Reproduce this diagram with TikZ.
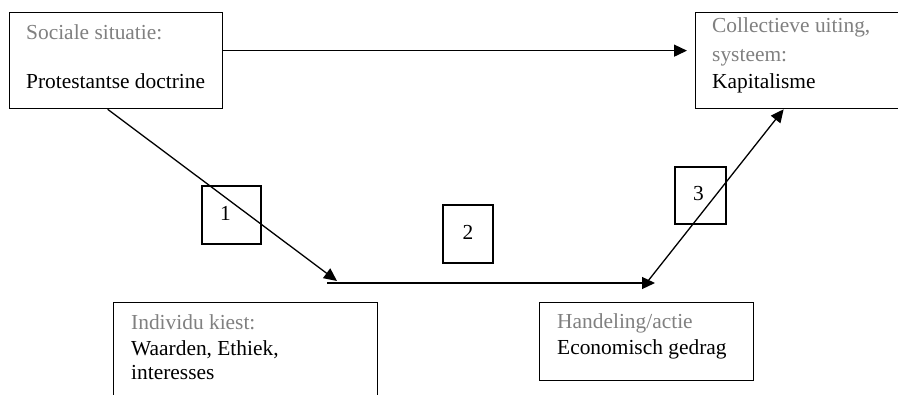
\documentclass[tikz,border=0pt]{standalone}
\usepackage{fontspec}
\setmainfont{Liberation Serif}
\usetikzlibrary{arrows.meta}
\definecolor{labelgray}{RGB}{128,128,128}

\begin{document}
\begin{tikzpicture}[x=1pt,y=-1pt,
    box/.style={draw,line width=1.3pt,anchor=north west,inner sep=0pt},
    numbox/.style={draw,line width=1.3pt,inner sep=0pt,font=\fontsize{21.4}{26}\selectfont},
    lbl/.style={anchor=base west,inner sep=0pt,font=\fontsize{21.4}{26}\selectfont},
    arr/.style={line width=1.3pt,-{Triangle[length=13pt,width=12pt]}}]
    \clip (0,0) rectangle (898,395);
    \fill[white] (0,0) rectangle (898,395);

    % the four boxes
    \node[box,minimum width=213pt,minimum height=96pt] (soc) at (9,12) {};
    \node[box,minimum width=210pt,minimum height=96pt] (col) at (695,12) {};
    \node[box,minimum width=264pt,minimum height=104pt] (ind) at (113,302) {};
    \node[box,minimum width=214pt,minimum height=78pt] (han) at (539,302) {};

    % texts in the boxes
    \node[lbl,labelgray] (soc1) at (26,40) {Sociale situatie:};
    \node[lbl] (soc2) at (26,89) {Protestantse doctrine};
    \node[lbl,labelgray] (col1) at (712,33) {Collectieve uiting,};
    \node[lbl,labelgray] (col2) at (712,62) {systeem:};
    \node[lbl] (col3) at (712,89) {Kapitalisme};
    \node[lbl,labelgray] (ind1) at (131,330) {Individu kiest:};
    \node[lbl] (ind2) at (131,356) {Waarden, Ethiek,};
    \node[lbl] (ind3) at (131,380) {interesses};
    \node[lbl,labelgray] (han1) at (557,329) {Handeling/actie};
    \node[lbl] (han2) at (557,355) {Economisch gedrag};

    % numbered boxes
    \node[numbox,minimum width=59pt,minimum height=58pt] (n1) at (231.5,215) {\hspace{-12pt}\raisebox{4pt}{1}};
    \node[numbox,minimum width=50pt,minimum height=58pt] (n2) at (468,234) {\raisebox{3pt}{2}};
    \node[numbox,minimum width=51pt,minimum height=57pt] (n3) at (700.5,195.5) {\hspace{-4pt}\raisebox{5pt}{3}};

    % arrows
    \coordinate (end1) at (337,281);
    \coordinate (start2) at (327,283);
    \coordinate (end2) at (655,283);
    \coordinate (start3) at (648,281);
    \draw[arr,shorten >=8pt] ([yshift=10pt]soc.east) -- ([yshift=10pt]col.west);
    \draw[arr] ([xshift=-8.5pt]soc.south) -- (end1);
    \draw[arr] (start2) -- (end2);
    \draw[arr] (start3) -- ([xshift=-17pt]col.south);
\end{tikzpicture}
\end{document}
